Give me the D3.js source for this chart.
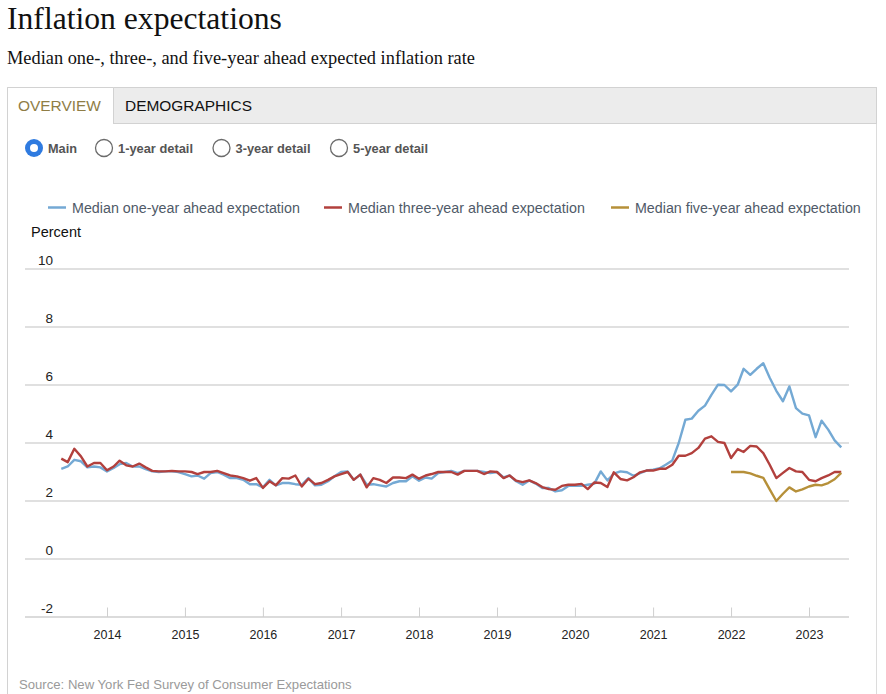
<!DOCTYPE html>
<html>
<head>
<meta charset="utf-8">
<script src="https://cdn.jsdelivr.net/npm/d3@7"></script>
<style>
  html, body { margin: 0; padding: 0; background: #fff; }
  svg { display: block; }
</style>
</head>
<body>
<svg id="chart" width="886" height="694"></svg>
<script>
// ---------------- DATA ----------------
const seriesStart = "2013-06";          // first monthly observation
const fiveYearStart = "2022-01";        // five-year series begins here

const oneYear = [
  3.11, 3.19, 3.42, 3.37, 3.16, 3.19, 3.16,
  3.02, 3.14, 3.27, 3.31, 3.19, 3.19, 3.10, 3.02, 3.00, 3.02, 3.02, 3.00,
  2.93, 2.85, 2.88, 2.77, 2.96, 3.00, 2.91, 2.79, 2.79, 2.73, 2.58, 2.58,
  2.47, 2.73, 2.54, 2.62, 2.62, 2.58, 2.56, 2.79, 2.54, 2.56, 2.68, 2.85,
  3.00, 3.02, 2.73, 2.91, 2.56, 2.58, 2.54, 2.50, 2.62, 2.68, 2.68, 2.85,
  2.70, 2.81, 2.77, 2.96, 3.00, 3.04, 2.96, 3.04, 3.04, 3.04, 3.00, 2.96,
  3.00, 2.81, 2.88, 2.68, 2.56, 2.71, 2.60, 2.45, 2.45, 2.33, 2.37, 2.52,
  2.52, 2.52, 2.56, 2.60, 3.02, 2.71, 2.94, 3.02, 2.99, 2.87, 2.96, 3.05,
  3.08, 3.13, 3.25, 3.40, 4.00, 4.80, 4.84, 5.11, 5.29, 5.66, 6.01, 6.00,
  5.78, 6.01, 6.56, 6.35, 6.56, 6.75, 6.25, 5.80, 5.44, 5.95, 5.20, 5.01,
  4.95, 4.20, 4.77, 4.46, 4.09, 3.85
];
const threeYear = [
  3.46, 3.34, 3.80, 3.54, 3.19, 3.31, 3.31,
  3.06, 3.19, 3.39, 3.23, 3.19, 3.29, 3.16, 3.04, 3.02, 3.02, 3.04, 3.02,
  3.02, 3.00, 2.93, 3.00, 3.00, 3.04, 2.96, 2.88, 2.85, 2.79, 2.70, 2.79,
  2.45, 2.68, 2.54, 2.79, 2.77, 2.88, 2.50, 2.77, 2.58, 2.62, 2.73, 2.85,
  2.93, 3.00, 2.73, 2.91, 2.47, 2.79, 2.73, 2.62, 2.81, 2.81, 2.79, 2.91,
  2.77, 2.88, 2.93, 3.00, 3.00, 3.00, 2.91, 3.04, 3.04, 3.04, 2.93, 3.02,
  3.00, 2.79, 2.88, 2.70, 2.65, 2.71, 2.62, 2.48, 2.41, 2.39, 2.52, 2.56,
  2.56, 2.59, 2.41, 2.64, 2.62, 2.48, 2.99, 2.76, 2.71, 2.82, 2.99, 3.05,
  3.05, 3.11, 3.11, 3.25, 3.56, 3.56, 3.65, 3.83, 4.15, 4.23, 4.04, 4.00,
  3.48, 3.79, 3.69, 3.90, 3.88, 3.65, 3.25, 2.79, 2.97, 3.14, 3.02, 3.00,
  2.73, 2.68, 2.79, 2.88, 3.00, 3.00
];
const fiveYear = [
  3.00, 3.00, 3.00, 2.95, 2.87, 2.80, 2.40, 2.00, 2.25, 2.47, 2.33, 2.40,
  2.50, 2.56, 2.54, 2.62, 2.75, 2.97
];

const seriesNames = [
  "Median one-year ahead expectation",
  "Median three-year ahead expectation",
  "Median five-year ahead expectation"
];
const seriesColors = ["#74a9d4", "#b2403d", "#b69039"];
const yTicks = [-2, 0, 2, 4, 6, 8, 10];
const xTickYears = [2014, 2015, 2016, 2017, 2018, 2019, 2020, 2021, 2022, 2023];
const radioLabels = ["Main", "1-year detail", "3-year detail", "5-year detail"];
const tabLabels = ["OVERVIEW", "DEMOGRAPHICS"];

// ---------------- HELPERS ----------------
const parseMonth = d3.timeParse("%Y-%m");
function monthSeries(start, values) {
  const d0 = parseMonth(start);
  return values.map((v, i) => ({ date: d3.timeMonth.offset(d0, i), value: v }));
}
function fit(sel, target) {
  const node = sel.node();
  const len = node.getComputedTextLength();
  const fs = parseFloat(sel.attr("font-size"));
  if (len > 0) sel.attr("font-size", (fs * target / len).toFixed(2));
  return sel;
}

const svg = d3.select("#chart");
const sans = "'Liberation Sans', Arial, Helvetica, sans-serif";
const serif = "'Liberation Serif', 'DejaVu Serif', Georgia, serif";

// ---------------- HEADER ----------------
fit(svg.append("text").attr("x", 7).attr("y", 29)
  .attr("font-family", serif).attr("font-size", 28).attr("fill", "#111")
  .text("Inflation expectations"), 275);

fit(svg.append("text").attr("x", 7).attr("y", 64)
  .attr("font-family", serif).attr("font-size", 16).attr("fill", "#111")
  .text("Median one-, three-, and five-year ahead expected inflation rate"), 468);

// ---------------- TABS / PANEL ----------------
const panelL = 7, panelR = 876;
svg.append("rect").attr("x", panelL + 0.5).attr("y", 87.5)
  .attr("width", panelR - panelL).attr("height", 36)
  .attr("fill", "#ececec").attr("stroke", "#d2d2d2");
svg.append("rect").attr("x", panelL + 0.5).attr("y", 87.5)
  .attr("width", 106).attr("height", 37.5)
  .attr("fill", "#fff").attr("stroke", "none");
svg.append("path")
  .attr("d", `M${panelL + 0.5},694 V87.5 H${panelL + 106.5} V124`)
  .attr("fill", "none").attr("stroke", "#d2d2d2");
svg.append("line").attr("x1", panelR + 0.5).attr("x2", panelR + 0.5)
  .attr("y1", 124).attr("y2", 694).attr("stroke", "#dcdcdc");

fit(svg.append("text").attr("x", 18).attr("y", 111)
  .attr("font-family", sans).attr("font-size", 15).attr("fill", "#8f7d45")
  .text(tabLabels[0]), 83);
fit(svg.append("text").attr("x", 125).attr("y", 111)
  .attr("font-family", sans).attr("font-size", 15).attr("fill", "#111")
  .text(tabLabels[1]), 127);

// ---------------- RADIO BUTTONS ----------------
const radioX = [34, 104, 221.5, 339];
const radioTextW = [29, 75, 75, 75];
radioLabels.forEach((lab, i) => {
  const g = svg.append("g");
  if (i === 0) {
    g.append("circle").attr("cx", radioX[i]).attr("cy", 148).attr("r", 9)
      .attr("fill", "#2f7be0");
    g.append("circle").attr("cx", radioX[i]).attr("cy", 148).attr("r", 4)
      .attr("fill", "#fff");
  } else {
    g.append("circle").attr("cx", radioX[i]).attr("cy", 148).attr("r", 8.5)
      .attr("fill", "#fff").attr("stroke", "#6b6b6b").attr("stroke-width", 1.3);
  }
  fit(g.append("text").attr("x", radioX[i] + 14).attr("y", 153)
    .attr("font-family", sans).attr("font-size", 13).attr("font-weight", "bold")
    .attr("fill", "#555").text(lab), radioTextW[i]);
});

// ---------------- SCALES ----------------
const x = d3.scaleTime()
  .domain([new Date(2014, 0, 1), new Date(2023, 0, 1)])
  .range([107, 809]);
const y = d3.scaleLinear().domain([-2, 10]).range([617, 269]);
const plotL = 25, plotR = 849;

// ---------------- LEGEND ----------------
const legendX = [48, 324, 611];
const legendW = [228, 237, 226];
seriesNames.forEach((name, i) => {
  svg.append("line").attr("x1", legendX[i]).attr("x2", legendX[i] + 18)
    .attr("y1", 207.5).attr("y2", 207.5)
    .attr("stroke", seriesColors[i]).attr("stroke-width", 2.5);
  fit(svg.append("text").attr("x", legendX[i] + 24).attr("y", 212.5)
    .attr("font-family", sans).attr("font-size", 14).attr("fill", "#4f5a68")
    .text(name), legendW[i]);
});

fit(svg.append("text").attr("x", 31).attr("y", 237)
  .attr("font-family", sans).attr("font-size", 14).attr("fill", "#111")
  .text("Percent"), 50);

// ---------------- GRID / Y AXIS ----------------
const grid = svg.append("g");
yTicks.forEach(t => {
  grid.append("line").attr("x1", plotL).attr("x2", plotR)
    .attr("y1", y(t)).attr("y2", y(t))
    .attr("stroke", t === -2 ? "#cfcfcf" : "#d6d6d6").attr("stroke-width", 1.5);
  grid.append("text").attr("x", 53).attr("y", y(t) - 4.5)
    .attr("text-anchor", "end").attr("font-family", sans).attr("font-size", 13.5)
    .attr("fill", "#222").text(t);
});

// ---------------- X AXIS ----------------
const xAxis = d3.axisBottom(x)
  .tickValues(xTickYears.map(yr => new Date(yr, 0, 1)))
  .tickFormat(d3.timeFormat("%Y"))
  .tickSize(0).tickPadding(0);
const xg = svg.append("g").attr("transform", `translate(0,${y(-2)})`).call(xAxis);
xg.select(".domain").remove();
xg.selectAll(".tick line").remove();
xg.selectAll(".tick").append("line")
  .attr("y1", -9.5).attr("y2", 0).attr("stroke", "#cfcfcf").attr("stroke-width", 1);
xg.selectAll(".tick text")
  .attr("y", 22).attr("dy", 0)
  .attr("font-family", sans).attr("font-size", 12.5).attr("fill", "#222");

// ---------------- LINES ----------------
const line = d3.line().x(d => x(d.date)).y(d => y(d.value));
const data = [
  monthSeries(seriesStart, oneYear),
  monthSeries(seriesStart, threeYear),
  monthSeries(fiveYearStart, fiveYear)
];
data.forEach((s, i) => {
  svg.append("path").datum(s)
    .attr("d", line)
    .attr("fill", "none")
    .attr("stroke", seriesColors[i])
    .attr("stroke-width", 2.4)
    .attr("stroke-linejoin", "round");
});

// ---------------- SOURCE ----------------
fit(svg.append("text").attr("x", 19).attr("y", 689)
  .attr("font-family", sans).attr("font-size", 13).attr("fill", "#9a9a9a")
  .text("Source: New York Fed Survey of Consumer Expectations"), 333);
</script>
</body>
</html>
